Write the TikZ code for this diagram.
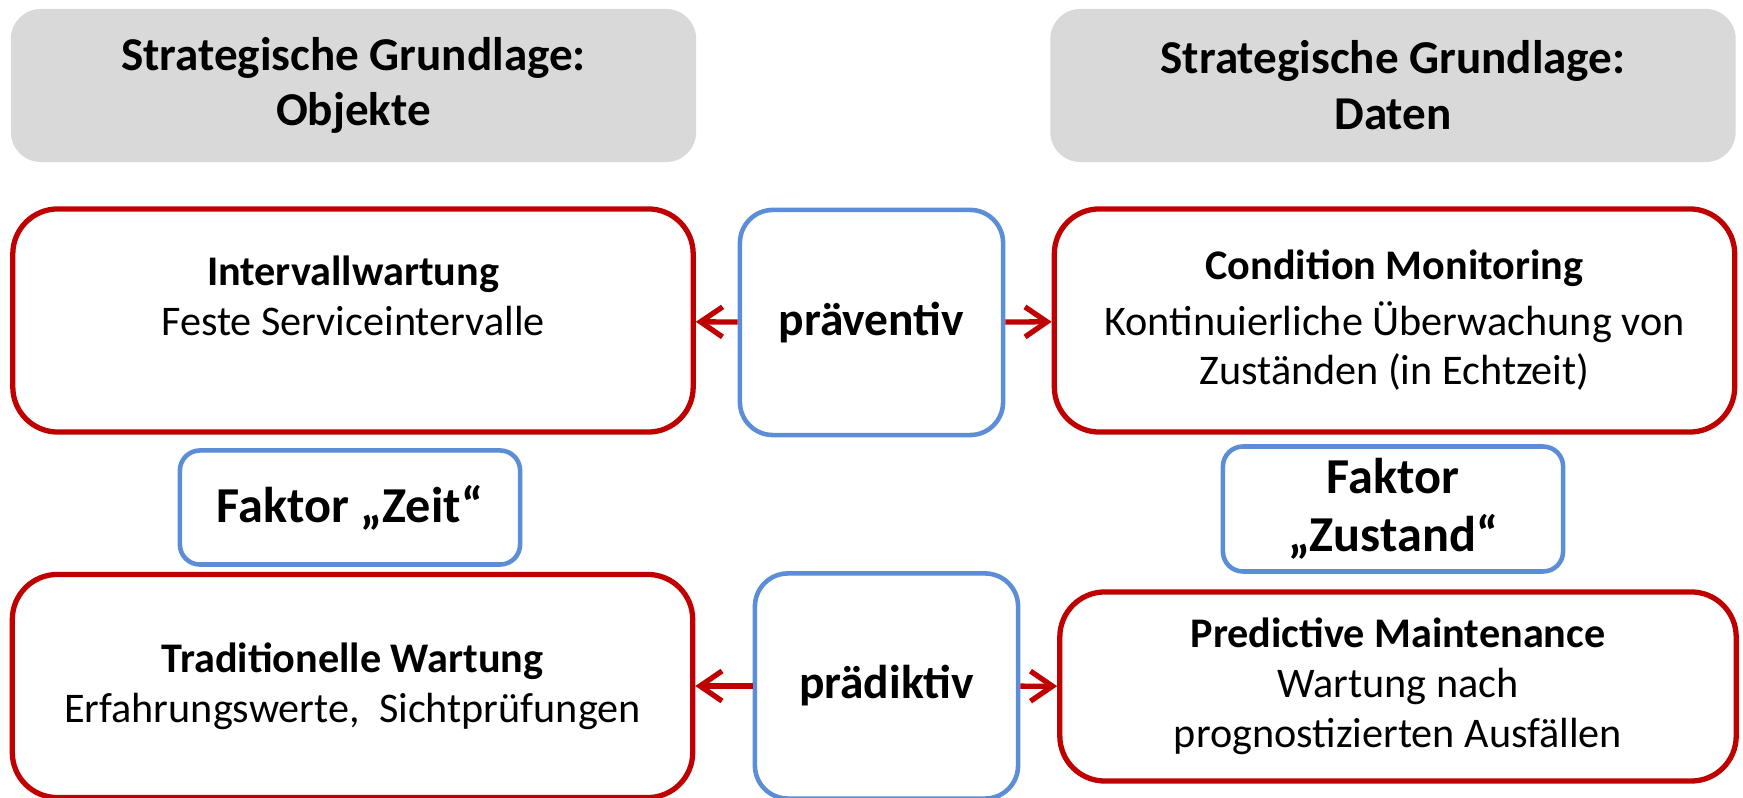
\documentclass[tikz,border=0pt]{standalone}
\usepackage{fontspec}
\setmainfont{Carlito}
\usepackage{tikz}
\usetikzlibrary{shapes, calc, arrows.meta, positioning}

\definecolor{boxred}{HTML}{C00000}
\definecolor{boxblue}{HTML}{5B8ED6}
\definecolor{headgray}{HTML}{D9D9D9}

\begin{document}
\begin{tikzpicture}[x=0.01cm, y=-0.01cm, ->, >={Straight Barb[length=2.2mm,width=3mm]}, line width=1.5pt]
	\tikzset{
		head/.style={fill=headgray, rounded corners=0.3cm, minimum width=6.85cm, minimum height=1.53cm, align=center, font=\fontsize{13.4}{15.9}\selectfont\bfseries},
		redbox/.style={draw=boxred, rounded corners=0.45cm, minimum width=6.8cm, minimum height=2.23cm, align=center, font=\fontsize{12}{14.2}\selectfont},
		bluebox/.style={draw=boxblue, line width=1.3pt, rounded corners=0.33cm, minimum width=2.63cm, minimum height=2.25cm, font=\fontsize{13.5}{16}\selectfont\bfseries},
		factor/.style={draw=boxblue, line width=1.3pt, rounded corners=0.2cm, minimum width=3.4cm, minimum height=1.14cm, align=center, font=\fontsize{14.3}{16.6}\selectfont\bfseries}
	}
	\useasboundingbox (0,0) rectangle (1743,798);
	\node[head] (objekte) at (353.5,85.5) {Strategische Grundlage:\\Objekte};
	\node[head] (daten) at (1393,85.5) {Strategische Grundlage:\\Daten};
	\node[redbox] (intervall) at (353,320.5) {\textbf{Intervallwartung}\\Feste Serviceintervalle\\\mbox{}};
	\node[bluebox] (praev) at (871.5,322.5) {präventiv};
	\node[redbox] (condition) at (1394.5,320.5) {\textbf{Condition Monitoring}\\[1.5pt]Kontinuierliche Überwachung von\\Zuständen (in Echtzeit)};
	\node[factor] (zeit) at (350,507.5) {Faktor „Zeit“};
	\node[factor] (zustand) at (1393,509) {Faktor\\„Zustand“};
	\node[redbox] (tradit) at (352.5,686) {\textbf{Traditionelle Wartung}\\Erfahrungswerte,\ \ Sichtprüfungen};
	\node[bluebox] (praed) at (886.5,686) {prädiktiv};
	\node[redbox, minimum width=6.76cm, minimum height=1.89cm] (predict) at (1398,686.5) {\textbf{Predictive Maintenance}\\Wartung nach\\prognostizierten Ausfällen};
	\path[color=boxred]
		(praev)
			edge (intervall)
			edge (condition)
		(praed)
			edge (tradit)
			edge (predict);
\end{tikzpicture}
\end{document}
